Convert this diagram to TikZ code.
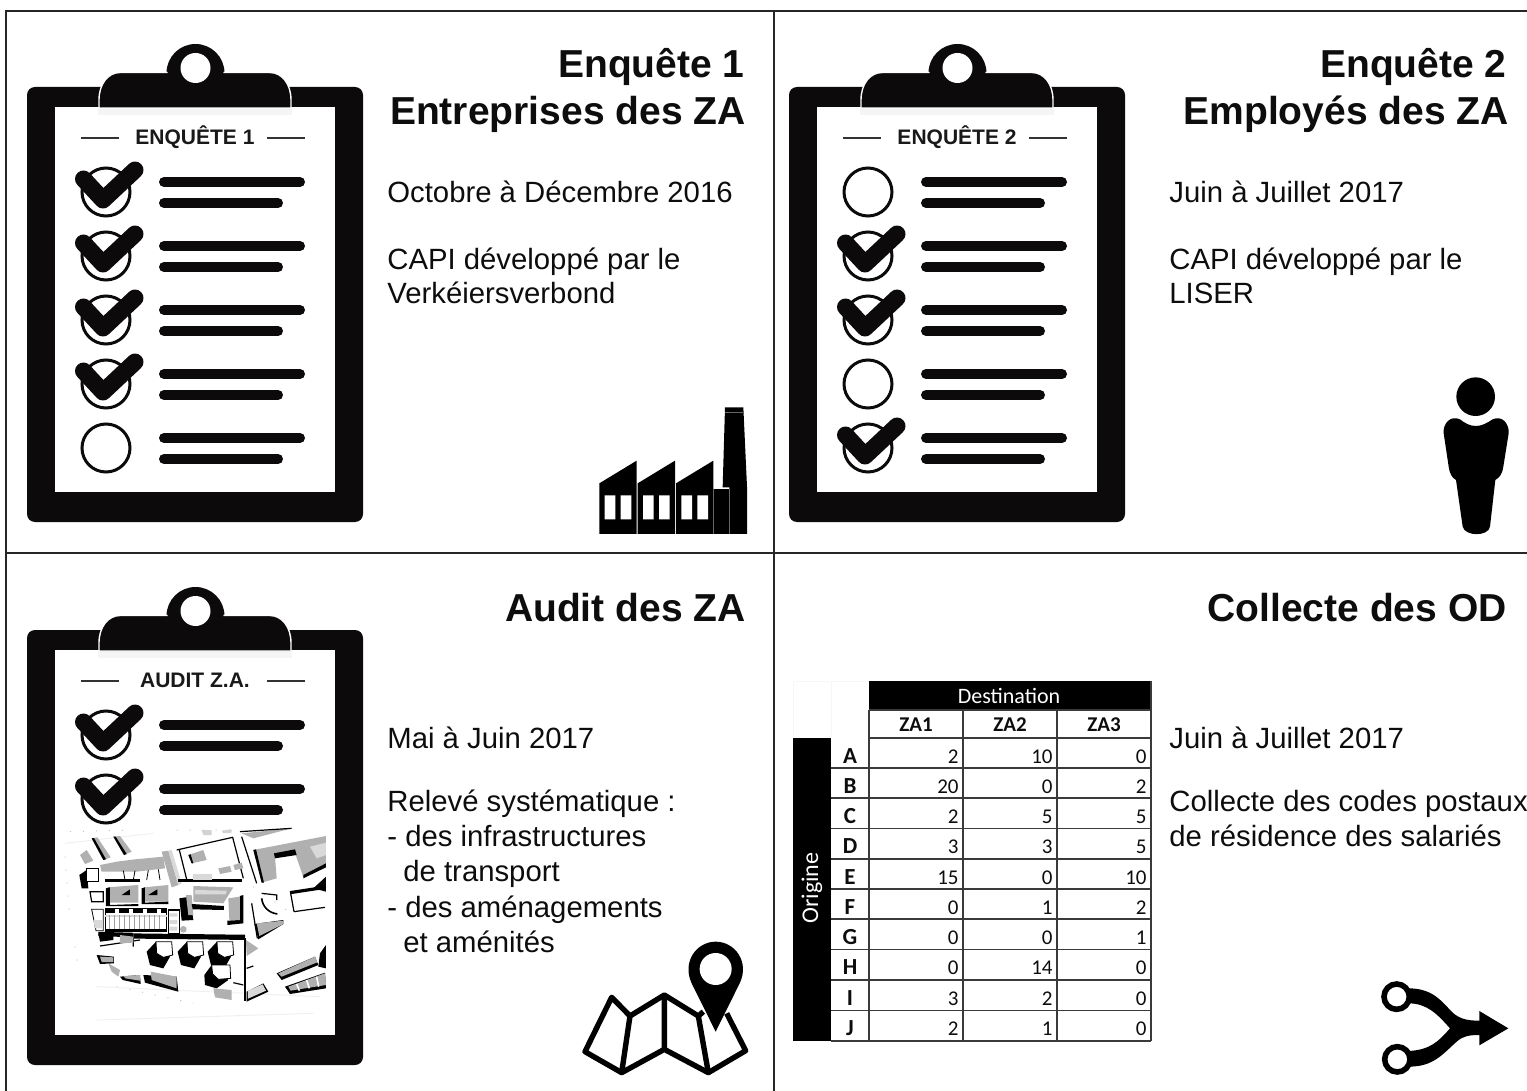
\documentclass[tikz,border=0pt]{standalone}
\usepackage{fontspec}
\setmainfont{Liberation Sans}
\newfontfamily\calfont{Carlito}
\definecolor{ink}{HTML}{0C0A0B}
\definecolor{gridc}{HTML}{3A3A3A}
\tikzset{
  titletext/.style={anchor=base east,inner sep=0pt,font=\fontsize{19.5}{22}\selectfont\bfseries,text=black!95},
  bodytext/.style={anchor=base west,inner sep=0pt,font=\fontsize{14.65}{18}\selectfont,text=black!95},
  cliplabel/.style={anchor=base,inner sep=0pt,font=\fontsize{10.5}{12}\selectfont\bfseries,text=black!90},
  textbar/.style={line width=5pt,line cap=round,draw=ink},
  thinrule/.style={line width=0.7pt,draw=black!80},
  panelline/.style={line width=1.2pt,draw=black!85},
  tablegrid/.style={line width=0.9pt,draw=gridc},
  cellnum/.style={anchor=base east,inner sep=0pt,font=\calfont\fontsize{10.5}{12}\selectfont,text=black!95},
  cellhead/.style={anchor=base,inner sep=0pt,font=\calfont\fontsize{10.5}{12}\selectfont\bfseries,text=black!95},
  rowhead/.style={anchor=base,inner sep=0pt,font=\calfont\fontsize{11.5}{12}\selectfont\bfseries,text=black!95},
  cellwhite/.style={inner sep=0pt,font=\calfont\fontsize{11}{12}\selectfont,text=white},
  bg/.style={fill=gray!62,draw=none},
  bl/.style={fill=black,draw=none},
  lg/.style={fill=gray!30,draw=none},
  wh/.style={fill=white,draw=black,line width=0.4pt},
  thinb/.style={draw=black,line width=0.6pt},
  thickb/.style={draw=black,line width=1.6pt},
  specks/.style={draw=gray!45,line width=0.5pt,dash pattern=on 0.5pt off 6pt}
}
\newcommand{\clipbase}[2]{%
  \fill[ink,rounded corners=4pt] (27,87) rectangle (363,522);
  \fill[white] (55,107) rectangle (335,492);
  \fill[gray!8] (98,108) rectangle (292,115);
  \fill[ink] (195.5,73) circle (29);
  \path[fill=ink,draw=white,line width=0.7pt] (99,108) -- (99,100) .. controls (99,84) and (108,72.5) .. (120,72.5) -- (270,72.5) .. controls (282,72.5) and (291,84) .. (291,100) -- (291,108) -- cycle;
  \fill[ink] (168,66) rectangle (223,74);
  \fill[ink] (195.5,73) circle (28);
  \fill[white] (195.5,68) circle (15);
  \draw[thinrule] (81,138) -- (119,138) (267,138) -- (305,138);
  \node[cliplabel] (#1) at (195,144.5) {#2};
}
\newcommand{\rowbars}{%
  \draw[textbar] (164,182) -- (300,182);
  \draw[textbar] (164,203) -- (278,203);
}
\newcommand{\rowon}[1]{\begin{scope}[shift={(0,64*#1)}]
  \rowbars
  \draw[line width=1.5pt,draw=ink] (106,192) circle (24);
  \draw[line width=8.5pt,draw=ink,line cap=round,line join=round] (83.5,179) -- (103,200) -- (135,170);
\end{scope}}
\newcommand{\rowoff}[1]{\begin{scope}[shift={(0,64*#1)}]
  \rowbars
  \draw[line width=1.5pt,draw=ink] (106,192) circle (24);
\end{scope}}
\begin{document}
\begin{tikzpicture}[x=0.5pt,y=-0.5pt]
\useasboundingbox (0,0) rectangle (1527,1091);
\fill[white] (0,0) rectangle (1527,1091);
% panel frame
\draw[panelline] (1527,11) -- (6,11) -- (6,1091);
\draw[panelline] (774,11) -- (774,1091);
\draw[panelline] (6,553) -- (1527,553);
% clipboard 1
\clipbase{clipa}{ENQUÊTE 1}
\rowon{0}\rowon{1}\rowon{2}\rowon{3}\rowoff{4}
% clipboard 2
\begin{scope}[shift={(762,0)}]
\clipbase{clipb}{ENQUÊTE 2}
\rowoff{0}\rowon{1}\rowon{2}\rowoff{3}\rowon{4}
\end{scope}
% clipboard 3
\begin{scope}[shift={(0,543)}]
\clipbase{clipc}{AUDIT Z.A.}
\rowon{0}\rowon{1}
\end{scope}
% aerial map
\begin{scope}[shift={(20,800)},scale=1/3]
\draw[specks] (150,95) -- (340,90) (135,170) -- (150,360) (165,440) -- (175,510) (290,560) -- (520,610) (700,260) -- (820,345) (470,90) -- (640,90);
\fill[gray!35] (545,90) -- (575,90) -- (575,105) -- (550,105) -- cycle (605,92) -- (635,88) -- (635,98) -- (610,100) -- cycle;
\draw[gray!12,line width=0.5pt] (230,560) -- (900,590) (230,660) -- (880,640) (135,130) -- (400,100);
\path[bg] (215,115) -- (232,112) -- (272,172) -- (250,180) -- cycle;
\path[bl] (215,115) -- (222,114) -- (258,178) -- (250,180) -- cycle;
\path[bg] (280,110) -- (300,108) -- (335,155) -- (312,165) -- cycle;
\path[bl] (280,110) -- (287,110) -- (320,162) -- (312,165) -- cycle;
\path[bg] (180,165) -- (200,150) -- (220,182) -- (195,192) -- cycle;
\path[bg] (240,195) -- (290,185) -- (345,178) -- (430,170) -- (435,205) -- (350,215) -- (245,215) -- cycle;
\draw[black,line width=0.4pt] (310,212) -- (315,240) (345,212) -- (340,240) (385,210) -- (380,240) (415,208) -- (420,240);
\path[bg] (425,155) -- (445,152) -- (475,255) -- (455,262) -- cycle;
\path[lg] (445,152) -- (455,150) -- (485,250) -- (475,255) -- cycle;
\draw[thickb] (255,242) -- (360,242) (475,242) -- (665,242);
\path[bl] (178,225) -- (200,210) -- (205,265) -- (185,265) -- cycle;
\path[wh] (198,205) -- (235,205) -- (235,245) -- (198,245) -- cycle;
\draw[thinb] (210,275) -- (250,275) -- (250,305) -- (215,305) -- cycle;
\path[bg] (262,262) -- (355,255) -- (355,308) -- (262,308) -- cycle;
\path[bl] (258,265) -- (270,262) -- (270,315) -- (355,312) -- (355,318) -- (258,318) -- cycle;
\path[bl] (305,285) -- (330,268) -- (330,285) -- cycle;
\path[bg] (372,262) -- (445,255) -- (445,305) -- (372,305) -- cycle;
\path[bl] (365,265) -- (375,262) -- (375,308) -- (445,305) -- (445,312) -- (365,312) -- cycle;
\path[bl] (385,285) -- (412,268) -- (412,285) -- cycle;
% terrace grid
\path[wh] (255,325) rectangle (440,390);
\draw[black,line width=2.4pt,dash pattern=on 5pt off 2pt] (255,332) -- (440,332);
\path[lg] (255,345) rectangle (440,352);
\foreach \gx in {270,285,...,430}{\draw[gray!75,line width=0.5pt] (\gx,345) -- (\gx,388);}
\draw[black,line width=1.4pt] (255,392) -- (440,392);
\path[wh] (215,328) -- (250,328) -- (250,392) -- (228,392) -- cycle;
\path[lg] (220,360) -- (248,360) -- (248,385) -- (225,385) -- cycle;
\draw[thinb] (445,330) rectangle (478,400);
\path[lg] (448,340) rectangle (472,350) (448,360) rectangle (472,372) (448,380) rectangle (472,392);
\fill[gray!60] (490,388) circle (10);
\draw[black,line width=2.2pt] (235,402) -- (340,405);
\draw[black,line width=2.6pt] (340,408) -- (675,412);
\draw[thinb] (340,412) -- (340,440) (240,438) -- (360,420);
\path[bl] (235,400) -- (280,405) -- (280,420) -- (240,425) -- cycle;
\path[bg] (300,405) -- (340,410) -- (340,428) -- (300,430) -- cycle;
% central block
\path[bl] (478,295) -- (510,290) -- (520,360) -- (485,362) -- cycle;
\path[bg] (498,285) -- (515,285) -- (520,345) -- (505,345) -- cycle;
\path[bg] (520,258) -- (640,262) -- (610,310) -- (520,305) -- cycle;
\path[lg] (525,270) -- (620,272) -- (618,283) -- (525,283) -- cycle;
\path[bl] (515,312) -- (612,318) -- (612,330) -- (518,328) -- cycle;
\path[bl] (622,375) -- (670,370) -- (670,285) -- (660,288) -- (660,360) -- (622,362) -- cycle;
\path[bg] (625,295) -- (660,290) -- (660,360) -- (628,360) -- cycle;
\draw[thinb] (470,150) -- (638,112) -- (670,235);
\draw[thinb] (478,150) -- (500,238);
\path[bg] (505,165) -- (550,150) -- (560,180) -- (515,190) -- cycle;
\path[bl] (505,165) -- (512,163) -- (520,190) -- (515,190) -- cycle;
\path[bg] (595,205) -- (630,198) -- (635,215) -- (600,222) -- cycle;
\path[bg] (640,195) -- (665,188) -- (670,205) -- (645,210) -- cycle;
\path[lg] (520,222) -- (575,222) -- (575,240) -- (520,240) -- cycle;
% right block
\path[bg] (665,100) -- (815,85) -- (700,115) -- cycle;
\draw[thinb] (660,95) -- (815,85);
\draw[thinb] (665,110) -- (710,250);
\path[bg] (700,150) -- (918,108) -- (918,195) -- (850,232) -- (825,158) -- (765,170) -- (770,235) -- (725,248) -- cycle;
\path[lg] (870,140) -- (918,128) -- (918,165) -- (890,175) -- cycle;
\path[bl] (700,150) -- (708,148) -- (732,248) -- (725,248) -- cycle;
\path[bl] (762,160) -- (825,148) -- (830,165) -- (765,175) -- cycle;
\path[bl] (850,225) -- (918,190) -- (918,202) -- (850,235) -- cycle;
\draw[black,line width=1.6pt] (810,278) -- (915,262);
\path[bl] (880,265) -- (918,230) -- (918,275) -- cycle;
\draw[thinb] (812,280) -- (822,335) (822,335) -- (915,322);
\draw[black,line width=0.8pt] (725,295) .. controls (728,320) and (745,338) .. (772,342);
\draw[thinb] (725,280) -- (770,285) -- (770,300);
\draw[thinb] (695,310) -- (712,415);
\path[bl] (703,372) -- (790,360) -- (790,372) -- (715,418) -- cycle;
\path[bg] (710,370) -- (790,362) -- (790,372) -- (718,408) -- cycle;
\path[bg] (678,420) -- (715,445) -- (680,468) -- cycle;
\path[bl] (770,520) -- (885,470) -- (895,495) -- (785,540) -- cycle;
\path[bg] (775,520) -- (885,470) -- (892,487) -- (785,530) -- cycle;
\path[bl] (795,560) -- (915,518) -- (918,565) -- (810,582) -- cycle;
\path[bg] (805,560) -- (915,520) -- (918,555) -- (812,572) -- cycle;
\draw[white,line width=0.8pt] (830,552) -- (838,572) (860,540) -- (868,565) (890,530) -- (896,560);
\path[bl] (900,460) -- (918,435) -- (918,505) -- (895,500) -- cycle;
\draw[thinb] (675,415) -- (675,603);
\path[bl] (680,575) -- (730,550) -- (745,575) -- (680,605) -- cycle;
\path[lg] (684,572) -- (728,553) -- (738,572) -- (684,596) -- cycle;
\draw[thinb] (680,505) -- (700,498) (640,548) -- (670,555);
% lower blobs
\foreach \sx in {0,93,183}{
\begin{scope}[shift={(\sx,0)}]
\path[bl] (380,455) -- (408,425) -- (430,440) -- (450,470) -- (430,505) -- (390,495) -- cycle;
\path[wh] (408,425) -- (455,425) -- (458,465) -- (430,472) -- (410,460) -- cycle;
\end{scope}}
\path[bl] (553,525) -- (575,495) -- (600,510) -- (625,540) -- (590,565) -- (555,555) -- cycle;
\path[wh] (575,495) -- (630,495) -- (632,535) -- (595,538) -- (578,522) -- cycle;
\path[bg] (580,565) -- (635,570) -- (635,600) -- (585,592) -- cycle;
\path[bl] (230,465) -- (282,470) -- (282,490) -- (240,492) -- cycle;
\path[bg] (240,470) -- (280,472) -- (280,486) -- (245,486) -- cycle;
\path[bg] (265,490) -- (300,510) -- (295,530) -- (275,515) -- cycle;
\path[bl] (300,530) -- (360,525) -- (362,552) -- (308,540) -- cycle;
\path[bg] (312,528) -- (360,525) -- (360,542) -- (315,535) -- cycle;
\path[bl] (370,525) -- (470,530) -- (475,575) -- (375,548) -- cycle;
\path[bg] (392,515) -- (470,530) -- (470,565) -- (395,540) -- cycle;
\end{scope}
% factory
\begin{scope}[shift={(570,390)},scale=1/3]
\foreach \fx in {0,115,230}{
\begin{scope}[shift={(\fx,0)}]
\fill[black] (88,280) -- (200,212) -- (200,432) -- (88,432) -- cycle;
\fill[white] (104,316) rectangle (136,388) (152,316) rectangle (184,388);
\end{scope}}
\fill[black] (430,296) rectangle (480,432);
\fill[black] (465,52) -- (520,52) -- (531,290) -- (531,432) -- (478,432) -- (478,292) -- (458,292) -- cycle;
\draw[black!60,line width=0.4pt] (465,68) -- (520,68) (477,296) -- (477,432) (430,296) -- (430,432);
\end{scope}
% person
\begin{scope}[shift={(1420,370)},scale=1/3]
\fill[black] (167,80) circle (58);
\fill[black] (120,148) .. controls (135,160) and (150,168) .. (167,168) .. controls (185,168) and (200,160) .. (218,148) .. controls (245,135) and (268,160) .. (266,190) -- (250,290) .. controls (246,315) and (238,322) .. (226,330) -- (210,470) .. controls (205,500) and (135,500) .. (128,470) -- (108,330) .. controls (96,322) and (90,315) .. (86,290) -- (71,190) .. controls (68,160) and (92,135) .. (120,148) -- cycle;
\end{scope}
% folded map
\begin{scope}[shift={(570,930)},scale=1/3]
\draw[black,line width=2.7pt,line join=round] (400,245) -- (385,258) -- (283,195) -- (180,258) -- (125,202) -- (45,365) -- (155,428) -- (283,358) -- (415,428) -- (527,362) -- (470,250);
\draw[black,line width=2.7pt] (180,258) -- (155,428) (283,195) -- (283,358) (385,258) -- (415,428);
\fill[black] (437,305) -- (365,160) .. controls (335,95) and (380,35) .. (437,35) .. controls (494,35) and (540,95) .. (509,160) -- cycle;
\fill[white] (437,117) circle (48);
\end{scope}
% merge arrow
\begin{scope}[shift={(1370,970)},scale=1/3]
\draw[black,line width=2.8pt] (80,80) circle (38) (82,268) circle (38);
\fill[black] (115,55) .. controls (190,55) and (215,95) .. (250,130) .. controls (275,150) and (300,152) .. (330,152) -- (330,195) .. controls (300,195) and (280,197) .. (260,215) .. controls (215,255) and (190,290) .. (115,290) -- (115,243) .. controls (180,240) and (205,215) .. (240,175) .. controls (200,130) and (170,100) .. (115,100) -- cycle;
\fill[black] (328,123) -- (415,175) -- (328,226) -- cycle;
\end{scope}
% table
\fill[black] (793,738) rectangle (831,1041);
\fill[black] (869,681) rectangle (1151,710);
\draw[gray!6,line width=0.5pt] (793,681) -- (869,681) (793,681) -- (793,738) (831,681) -- (831,738);
\draw[tablegrid] (869,710) -- (1151,710) (869,738) -- (1151,738);
\draw[tablegrid] (869,710) -- (869,1041) (963,710) -- (963,1041) (1057,710) -- (1057,1041) (1151,681) -- (1151,1041);
\foreach \ly in {768,798,828.5,859,889,919,949.5,980,1010.5,1041}{\draw[tablegrid] (831,\ly) -- (1151,\ly);}
\node[cellwhite,anchor=base] (dest) at (1009,703) {Destination};
\node[cellwhite,rotate=90,font=\calfont\fontsize{12}{12}\selectfont] (orig) at (812,888) {Origine};
\node[cellhead] (za1) at (916,731) {ZA1};
\node[cellhead] (za2) at (1010,731) {ZA2};
\node[cellhead] (za3) at (1104,731) {ZA3};
\foreach \lab/\va/\vb/\vc [count=\ri from 0] in {A/2/10/0,B/20/0/2,C/2/5/5,D/3/3/5,E/15/0/10,F/0/1/2,G/0/0/1,H/0/14/0,I/3/2/0,J/2/1/0}{
  \pgfmathsetmacro{\by}{763+30.25*\ri}
  \node[rowhead] (r\lab) at (850,\by) {\lab};
  \node[cellnum] (r\lab a) at (959,\by) {\va};
  \node[cellnum] (r\lab b) at (1053,\by) {\vb};
  \node[cellnum] (r\lab c) at (1147,\by) {\vc};
}
% titles
\node[titletext] (ta1) at (745,78) {Enquête 1};
\node[titletext] (ta2) at (746,125) {Entreprises des ZA};
\node[titletext] (tb1) at (1507,78) {Enquête 2};
\node[titletext] (tb2) at (1509,125) {Employés des ZA};
\node[titletext] (tc1) at (746,621) {Audit des ZA};
\node[titletext] (td1) at (1507,621) {Collecte des OD};
% body
\node[bodytext] (a1) at (387,203) {Octobre à Décembre 2016};
\node[bodytext] (a2) at (387,270) {CAPI développé par le};
\node[bodytext] (a3) at (387,304) {Verkéiersverbond};
\node[bodytext] (b1) at (1169,203) {Juin à Juillet 2017};
\node[bodytext] (b2) at (1169,270) {CAPI développé par le};
\node[bodytext] (b3) at (1169,304) {LISER};
\node[bodytext] (c1) at (387,748) {Mai à Juin 2017};
\node[bodytext] (c2) at (387,811) {Relevé systématique :};
\node[bodytext] (c3) at (387,846) {- des infrastructures};
\node[bodytext] (c4) at (403,881) {de transport};
\node[bodytext] (c5) at (387,917) {- des aménagements};
\node[bodytext] (c6) at (403,952) {et aménités};
\node[bodytext] (d1) at (1169,748) {Juin à Juillet 2017};
\node[bodytext] (d2) at (1169,811) {Collecte des codes postaux};
\node[bodytext] (d3) at (1169,846) {de résidence des salariés};
\end{tikzpicture}
\end{document}
